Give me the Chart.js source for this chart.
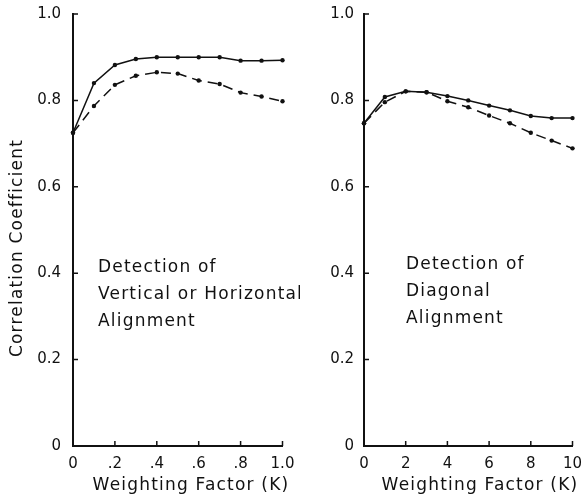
<!DOCTYPE html>
<html>
<head>
<meta charset="utf-8">
<title>Correlation Coefficient vs Weighting Factor</title>
<script src="https://cdn.jsdelivr.net/npm/chart.js@4.4.0/dist/chart.umd.min.js"></script>
<style>
  html, body { margin: 0; padding: 0; background: #fff; }
  #wrap { position: relative; width: 584px; height: 499px; overflow: hidden; }
  .panel { position: absolute; top: 0; height: 499px; }
  #left { left: 0; width: 300px; }
  #right { left: 292px; width: 292px; }
</style>
</head>
<body>
<div id="wrap">
  <div class="panel" id="left"><canvas id="chartLeft"></canvas></div>
  <div class="panel" id="right"><canvas id="chartRight"></canvas></div>
</div>
<script>
// weighting factor K, same for both panels
const weights = [0, 0.1, 0.2, 0.3, 0.4, 0.5, 0.6, 0.7, 0.8, 0.9, 1.0];

// vertical / horizontal alignment panel
const leftSolid  = [0.725, 0.84, 0.882, 0.896, 0.90, 0.90, 0.90, 0.90, 0.892, 0.892, 0.893];
const leftDashed = [0.725, 0.787, 0.836, 0.857, 0.865, 0.862, 0.846, 0.838, 0.818, 0.809, 0.798];

// diagonal alignment panel
const rightSolid  = [0.747, 0.808, 0.821, 0.819, 0.810, 0.800, 0.788, 0.777, 0.764, 0.759, 0.759];
const rightDashed = [0.747, 0.796, 0.821, 0.819, 0.798, 0.784, 0.765, 0.747, 0.725, 0.707, 0.689];

const yTicks = [0, 0.2, 0.4, 0.6, 0.8, 1.0];
const yTickLabels = ['0', '0.2', '0.4', '0.6', '0.8', '1.0'];
const xTicks = [0, 0.2, 0.4, 0.6, 0.8, 1.0];
const leftXTickLabels = ['0', '.2', '.4', '.6', '.8', '1.0'];
const rightXTickLabels = ['0', '2', '4', '6', '8', '10'];

const yTitle = 'Correlation Coefficient';
const xTitle = 'Weighting Factor (K)';
const leftNote = ['Detection of', 'Vertical or Horizontal', 'Alignment'];
const rightNote = ['Detection of', 'Diagonal', 'Alignment'];

const INK = '#111';
const FONT = '"DejaVu Sans", "Liberation Sans", sans-serif';

function toPoints(values) {
    return weights.map((w, i) => ({ x: w, y: values[i] }));
}

// small tick marks pointing into the plot, like the original figure
const inwardTicks = {
    id: 'inwardTicks',
    afterDraw(chart) {
        const { ctx, chartArea, scales } = chart;
        const len = 5;
        ctx.save();
        ctx.strokeStyle = INK;
        ctx.lineWidth = 1.5;
        ctx.beginPath();
        scales.y.ticks.forEach(t => {
            if (t.value === 0) return;
            const py = scales.y.getPixelForValue(t.value);
            ctx.moveTo(chartArea.left, py);
            ctx.lineTo(chartArea.left + len, py);
        });
        scales.x.ticks.forEach(t => {
            if (t.value === 0) return;
            const px = scales.x.getPixelForValue(t.value);
            ctx.moveTo(px, chartArea.bottom);
            ctx.lineTo(px, chartArea.bottom - len);
        });
        ctx.stroke();
        ctx.restore();
    }
};

// titles and notes, drawn with some letter spacing
const textLayer = {
    id: 'textLayer',
    afterDraw(chart, args, opts) {
        const { ctx, chartArea } = chart;
        ctx.save();
        ctx.fillStyle = INK;
        ctx.font = '17px ' + FONT;
        ctx.letterSpacing = '1.2px';
        ctx.textBaseline = 'middle';

        ctx.textAlign = 'left';
        opts.note.forEach((line, i) => {
            ctx.fillText(line, chartArea.left + opts.noteX, opts.noteY + i * 27);
        });

        ctx.textAlign = 'center';
        ctx.fillText(xTitle, chartArea.left + opts.xTitleX, opts.xTitleY);

        if (opts.showYTitle) {
            ctx.translate(18, 248);
            ctx.rotate(-Math.PI / 2);
            ctx.fillText(yTitle, 0, 0);
        }
        ctx.restore();
    }
};

function makeChart(canvasId, solid, dashed, xLabels, cfg) {
    return new Chart(document.getElementById(canvasId), {
        type: 'line',
        data: {
            datasets: [
                {
                    label: 'solid',
                    data: toPoints(solid),
                    borderColor: INK,
                    borderWidth: 1.5,
                    pointRadius: 2.2,
                    pointBackgroundColor: INK,
                    pointBorderWidth: 0,
                    tension: 0,
                    clip: false
                },
                {
                    label: 'dashed',
                    data: toPoints(dashed),
                    borderColor: INK,
                    borderWidth: 1.5,
                    borderDash: [10, 6],
                    pointRadius: 2.2,
                    pointBackgroundColor: INK,
                    pointBorderWidth: 0,
                    tension: 0,
                    clip: false
                }
            ]
        },
        options: {
            responsive: true,
            maintainAspectRatio: false,
            animation: false,
            layout: {
                padding: { top: 14, right: cfg.padRight, bottom: 0, left: 0 }
            },
            scales: {
                x: {
                    type: 'linear',
                    min: 0,
                    max: 1,
                    afterBuildTicks: s => { s.ticks = xTicks.map(v => ({ value: v })); },
                    afterFit: s => {
                        s.height = 53;
                        s.paddingLeft = 0;
                        s.paddingRight = 0;
                    },
                    grid: { display: false, drawTicks: false },
                    border: { display: true, color: INK, width: 2 },
                    ticks: {
                        padding: 9,
                        maxRotation: 0,
                        color: INK,
                        font: { family: FONT, size: 15 },
                        callback: (v, i) => xLabels[i]
                    }
                },
                y: {
                    min: 0,
                    max: 1,
                    afterBuildTicks: s => { s.ticks = yTicks.map(v => ({ value: v })); },
                    afterFit: s => {
                        s.width = cfg.yWidth;
                        s.paddingTop = 0;
                        s.paddingBottom = 0;
                    },
                    grid: { display: false, drawTicks: false },
                    border: { display: true, color: INK, width: 2 },
                    ticks: {
                        padding: cfg.yPad,
                        color: INK,
                        font: { family: FONT, size: 15 },
                        callback: (v, i) => yTickLabels[i]
                    }
                }
            },
            plugins: {
                legend: { display: false },
                tooltip: { enabled: false },
                textLayer: cfg.text
            }
        },
        plugins: [inwardTicks, textLayer]
    });
}

makeChart('chartLeft', leftSolid, leftDashed, leftXTickLabels, {
    padRight: 17.5,
    yWidth: 73,
    yPad: 12,
    text: { note: leftNote, noteX: 25, noteY: 268, xTitleX: 118, xTitleY: 486, showYTitle: true }
});

makeChart('chartRight', rightSolid, rightDashed, rightXTickLabels, {
    padRight: 11.5,
    yWidth: 72,
    yPad: 10,
    text: { note: rightNote, noteX: 42, noteY: 265, xTitleX: 116, xTitleY: 486, showYTitle: false }
});
</script>
</body>
</html>
